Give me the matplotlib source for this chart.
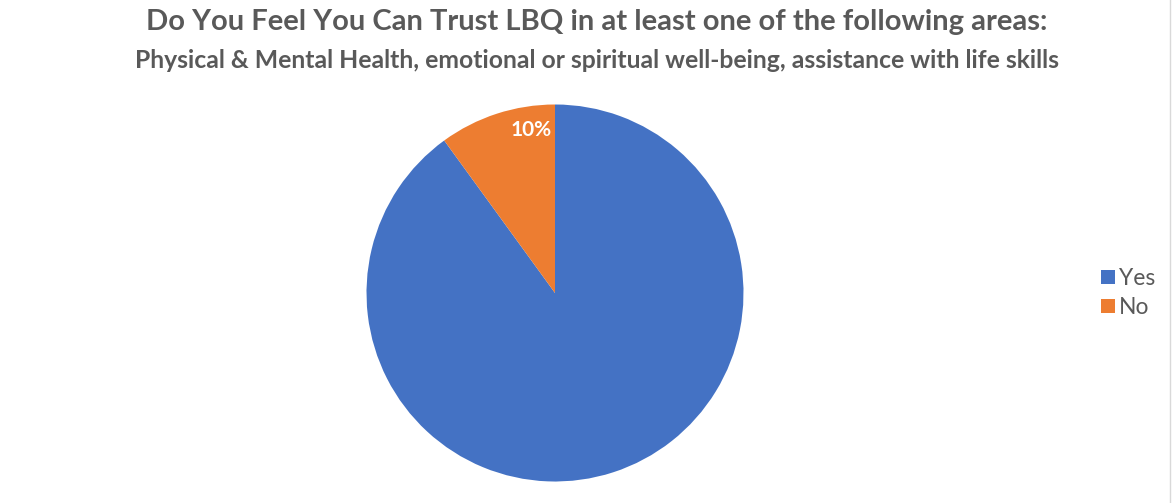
import matplotlib
matplotlib.use("Agg")
import matplotlib.pyplot as plt
from matplotlib.patches import Patch

categories = ["Yes", "No"]
values = [90, 10]
colors = ["#4472C4", "#ED7D31"]
title = "Do You Feel You Can Trust LBQ in at least one of the following areas:"
subtitle = "Physical & Mental Health, emotional or spiritual well-being, assistance with life skills"

plt.rcParams['font.family'] = ['Lato', 'DejaVu Sans']
W, H = 1173, 503
fig = plt.figure(figsize=(W / 100, H / 100), dpi=100)
fig.patch.set_facecolor("white")

cx, cy, r = 555, 293, 188.5
ax = fig.add_axes([(cx - r) / W, (H - cy - r) / H, 2 * r / W, 2 * r / H])
wedges, _ = ax.pie(values, colors=colors, startangle=90, counterclock=False,
                   wedgeprops=dict(linewidth=0))
ax.set_xlim(-1, 1)
ax.set_ylim(-1, 1)
ax.set_aspect("equal")
ax.axis("off")

ax.text(-0.125, 0.865, f"{values[1]}%", color="white", fontsize=15,
        fontweight="bold", ha="center", va="center")

fig.text(597 / W, 1 - 22 / H, title, ha="center", va="center",
         fontsize=21, fontweight="bold", color="#595959")
fig.text(597 / W, 1 - 60 / H, subtitle, ha="center", va="center",
         fontsize=17.8, fontweight="bold", color="#595959")

handles = [Patch(facecolor=c, edgecolor="none") for c in colors]
leg = fig.legend(handles, categories, loc="center left",
                 bbox_to_anchor=(1101 / W, 1 - 293 / H), frameon=False,
                 fontsize=16.5, handlelength=0.6, handleheight=0.6,
                 handletextpad=0.2, labelspacing=0.35, labelcolor="#595959",
                 borderpad=0, borderaxespad=0)

fig.add_artist(plt.Line2D([1170 / W, 1170 / W], [0, 1], color="#D9D9D9",
                          lw=1, transform=fig.transFigure))

fig.savefig("out.png", dpi=100)
